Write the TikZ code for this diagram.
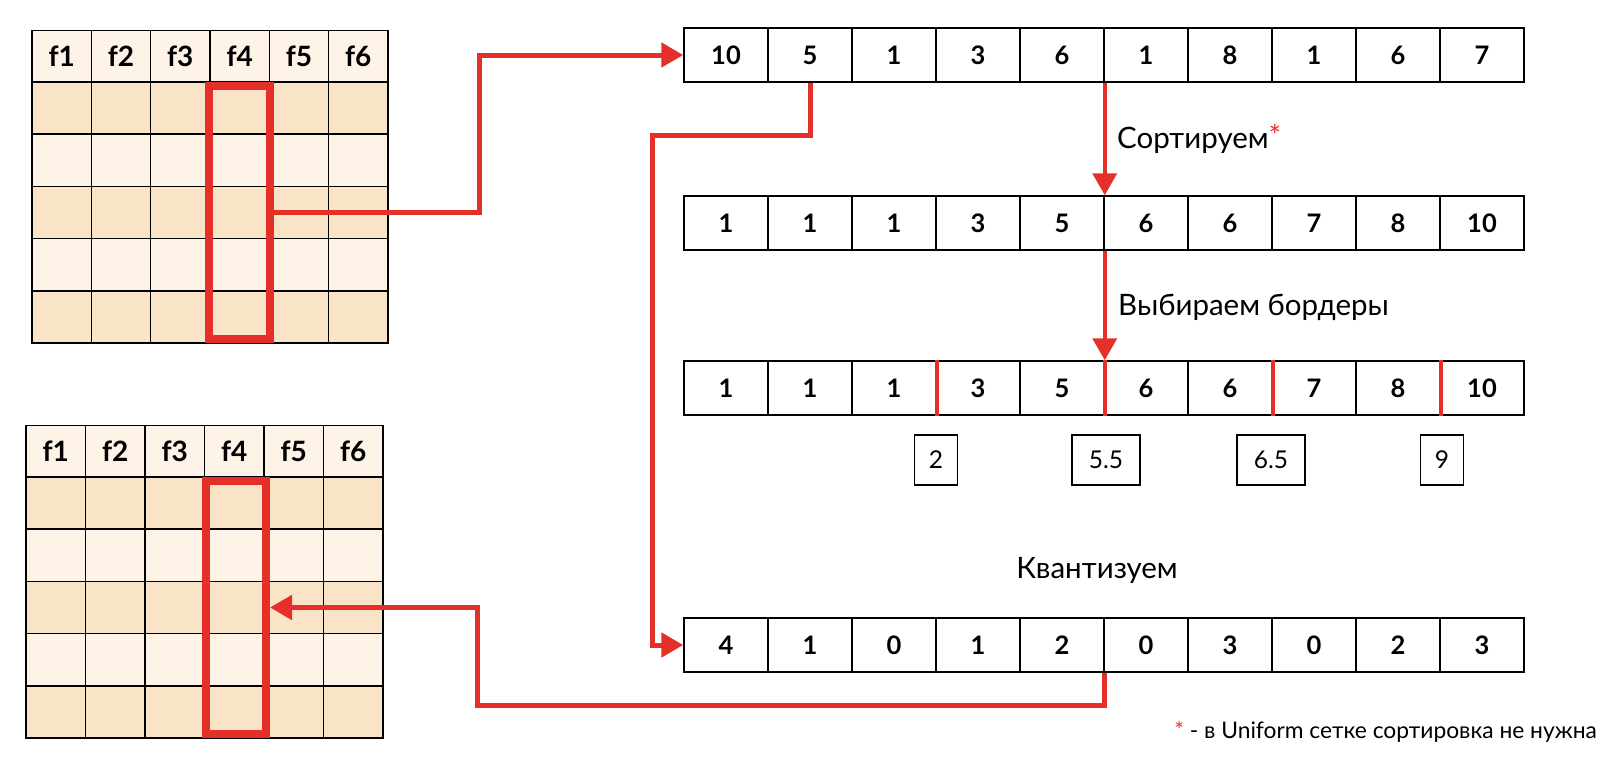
\documentclass[tikz,border=0pt]{standalone}
\usepackage{fontspec}
\setmainfont{Lato}
\usetikzlibrary{arrows.meta}
\definecolor{rd}{RGB}{229,48,41}
\definecolor{tanD}{RGB}{249,228,200}
\definecolor{tanL}{RGB}{253,243,231}
\begin{document}
\begin{tikzpicture}[x=1pt,y=-1pt,
  gcell/.style={draw=black, line width=1.5pt, minimum width=59.4pt, minimum height=52.2pt, inner sep=0pt, font=\fontsize{28}{30}\selectfont\bfseries},
  acell/.style={draw=black, line width=1.5pt, minimum width=84pt, minimum height=54pt, inner sep=0pt, font=\fontsize{25.5}{28}\selectfont\bfseries},
  bbox/.style={draw=black, line width=1.5pt, minimum height=50pt, inner sep=0pt, font=\fontsize{24.5}{26}\selectfont},
  selbox/.style={draw=rd, line width=8pt, inner sep=0pt, minimum width=61pt, minimum height=253pt},
  lbl/.style={inner sep=0pt, font=\fontsize{29.5}{32}\selectfont},
  conn/.style={draw=rd, line width=5pt},
  vconn/.style={draw=rd, line width=4pt},
  tip/.style={-{Triangle[length=22pt,width=24pt]}},
  bline/.style={draw=rd, line width=4pt}
]
\useasboundingbox (0,0) rectangle (1618,764);
\fill[white] (0,0) rectangle (1618,764);

% ---- top-left grid ----
\foreach \c [count=\i] in {f1,f2,f3,f4,f5,f6}
  \node[gcell, fill=tanL] (ga0c\i) at ({32+59.33*(\i-0.5)},56.5) {\c};
\foreach \r/\fc in {1/tanD,2/tanL,3/tanD,4/tanL,5/tanD}
  \foreach \i in {1,...,6}
    \node[gcell, fill=\fc] (ga\r c\i) at ({32+59.33*(\i-0.5)},{82+52.2*(\r-0.5)}) {};
\node[selbox] (sel1) at (239.5,212.5) {};

% ---- bottom-left grid ----
\foreach \c [count=\i] in {f1,f2,f3,f4,f5,f6}
  \node[gcell, fill=tanL] (gb0c\i) at ({26+59.5*(\i-0.5)},451.5) {\c};
\foreach \r/\fc in {1/tanD,2/tanL,3/tanD,4/tanL,5/tanD}
  \foreach \i in {1,...,6}
    \node[gcell, fill=\fc, minimum width=59.5pt] (gb\r c\i) at ({26+59.5*(\i-0.5)},{477+52.2*(\r-0.5)}) {};
\node[selbox, minimum width=60pt] (sel2) at (236,607.5) {};

% ---- arrays ----
\foreach \v [count=\i] in {10,5,1,3,6,1,8,1,6,7}
  \node[acell] (a1c\i) at ({726+84*(\i-1)},55) {\v};
\foreach \v [count=\i] in {1,1,1,3,5,6,6,7,8,10}
  \node[acell] (a2c\i) at ({726+84*(\i-1)},223) {\v};
\foreach \v [count=\i] in {1,1,1,3,5,6,6,7,8,10}
  \node[acell] (a3c\i) at ({726+84*(\i-1)},388) {\v};
\foreach \v [count=\i] in {4,1,0,1,2,0,3,0,2,3}
  \node[acell] (a4c\i) at ({726+84*(\i-1)},645) {\v};

% ---- borders in third array ----
\foreach \i in {3,5,7,9}
  \draw[bline] (a3c\i.north east) -- (a3c\i.south east);

% ---- border values ----
\node[bbox, minimum width=43pt] (b1) at (936,460) {2};
\node[bbox, minimum width=68pt] (b2) at (1106,460) {5.5};
\node[bbox, minimum width=68pt] (b3) at (1271,460) {6.5};
\node[bbox, minimum width=43pt] (b4) at (1442,460) {9};

% ---- labels ----
\node[lbl, anchor=base west] (l1) at (1117,148) {Сортируем\textcolor{rd}{\raisebox{2pt}{*}}};
\node[lbl, anchor=base west] (l2) at (1118,315) {Выбираем бордеры};
\node[lbl, anchor=base] (l3) at (1097,578) {Квантизуем};
\node[inner sep=0pt, anchor=base east, font=\fontsize{22.8}{26}\selectfont] (fn) at (1597,738) {\textcolor{rd}{*} - в Uniform сетке сортировка не нужна};

% ---- connectors ----
\coordinate (k1) at (479,55);
\coordinate (k2) at (652,135);
\coordinate (k3) at (477,705);
\draw[conn, tip] (sel1.east) -| (k1) -- (a1c1.west);
\draw[conn, tip] (a1c2.south) |- (k2) |- (a4c1.west);
\draw[conn, tip] (a4c5.south east) |- (k3) |- (sel2.east);
\draw[vconn, tip] (a1c5.south east) -- (a2c5.north east);
\draw[vconn, tip] (a2c5.south east) -- (a3c5.north east);
\end{tikzpicture}
\end{document}
